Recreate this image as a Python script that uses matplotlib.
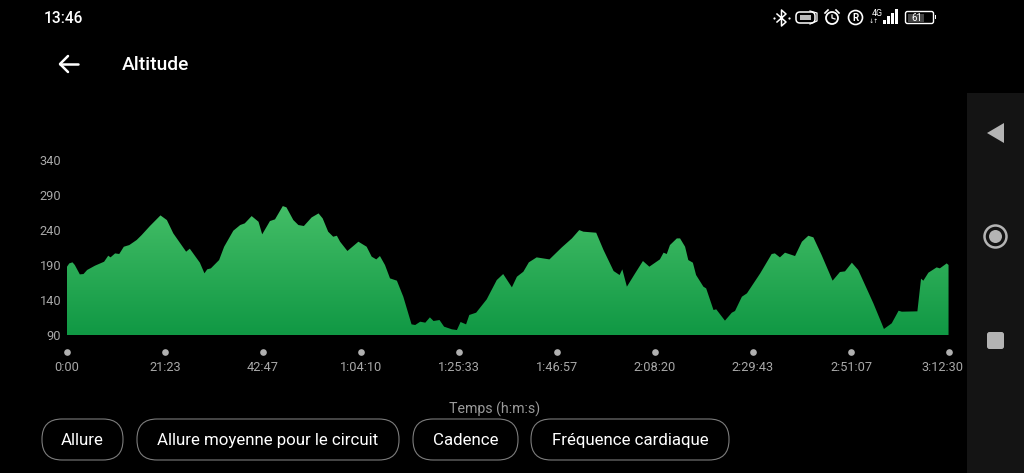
import numpy as np
import matplotlib
matplotlib.use('Agg')
import matplotlib.pyplot as plt
from matplotlib.patches import FancyBboxPatch, Polygon, Circle, Rectangle
from matplotlib.transforms import ScaledTranslation

plt.rcParams['font.family'] = ['Roboto', 'DejaVu Sans']

# time in minutes, altitude in metres
minutes = [0, .5, 1.2, 1.7, 2.8, 3.6, 4.4, 6.1, 8.1, 9.0, 9.5, 10.5, 11.4, 12.4, 13.6, 15.2, 16.3, 18.1, 20.4, 21.8,
           23.2, 26.0, 26.8, 29.0, 30.0, 30.6, 31.4, 33.2, 34.3, 36.3, 37.8, 38.8, 40.3, 41.8, 42.6, 44.3, 45.4, 47.1,
           47.9, 49.4, 50.5, 51.7, 53.4, 54.9, 55.8, 57.0, 58.1, 58.9, 59.6, 61.2, 63.6, 65.4, 66.5, 67.5, 68.3, 69.4,
           70.5, 72.0, 73.4, 75.2, 76.0, 77.1, 78.2, 79.2, 80.0, 81.3, 82.3, 84.0, 85.1, 85.9, 87.1, 87.8, 89.3, 91.6,
           93.8, 95.2, 97.1, 98.2, 99.6, 100.8, 102.5, 105.3, 108.0, 110.2, 111.8, 112.7, 115.5, 117.1, 119.3, 120.6,
           121.2, 122.2, 124.0, 125.7, 127.1, 129.4, 130.2, 130.9, 131.6, 133.1, 133.8, 134.9, 135.6, 136.6, 137.3,
           138.9, 139.5, 141.1, 141.7, 143.6, 145.1, 145.8, 147.3, 148.4, 151.3, 153.8, 154.5, 155.6, 156.7, 158.9,
           160.4, 161.8, 162.9, 164.7, 167.1, 168.7, 169.8, 171.3, 172.7, 176.0, 177.8, 178.3, 180.0, 181.5, 182.2,
           185.6, 186.4, 186.9, 188.0, 189.8, 190.5, 192.0, 192.4]
altitude = [187.6, 192.3, 193.8, 190, 176.6, 177.1, 182.9, 189, 194.7, 203.3, 200.9, 206.6, 205.7, 216.1, 218.5, 225.7,
            232.8, 245.7, 260.9, 254.2, 235.2, 209, 213.3, 193.3, 178.1, 183.8, 185.2, 197.1, 216.1, 239, 247.1, 249.5,
            259.9, 251.8, 233.8, 252.8, 255.2, 274.2, 272.3, 254.2, 247.1, 245.7, 258, 263.7, 256.6, 237.6, 230.4,
            231.8, 223.3, 210, 223.3, 216.1, 201.9, 198, 202.8, 190, 170.9, 167.6, 144.7, 105.2, 104.3, 109, 107.6,
            115.2, 110, 111.4, 101.9, 98.1, 97.1, 108.6, 105.2, 118.6, 121.9, 140.9, 168.5, 177.1, 158.1, 173.3, 180.4,
            193.8, 200.9, 198, 215.2, 228, 239.9, 237.6, 236.1, 211.4, 181.4, 175.7, 183.8, 159, 178.1, 195.7, 187.6,
            198, 207.6, 205.7, 218.5, 228, 228, 216.1, 197.1, 193.3, 175.7, 159, 156.6, 125.7, 126.7, 110.5, 121.9,
            124.3, 144.7, 149.5, 178.1, 205.7, 206.6, 200.9, 207.6, 202.8, 223.3, 231.8, 229.5, 204.2, 167.6, 180,
            180.9, 193.3, 182.8, 135.2, 106.7, 98.6, 106.7, 124.7, 123.3, 123.8, 170.4, 167.6, 179, 186.6, 185.2,
            192.3, 190]

y_ticks = [90, 140, 190, 240, 290, 340]
x_tick_minutes = [0, 21.38, 42.78, 64.17, 85.55, 106.95, 128.33, 149.72, 171.12, 192.5]
x_tick_labels = ['0:00', '21:23', '42:47', '1:04:10', '1:25:33', '1:46:57', '2:08:20', '2:29:43', '2:51:07', '3:12:30']
buttons = ['Allure', 'Allure moyenne pour le circuit', 'Cadence', 'Fréquence cardiaque']

W, H = 1024, 473
fig = plt.figure(figsize=(W / 100, H / 100), dpi=100, facecolor='black')

# chart area, 67..949 px across and 160..335 px down
ax = fig.add_axes([67 / W, 1 - 335 / H, 882 / W, 175 / H], facecolor='black')

# gradient fill clipped to the altitude outline
top_col = np.array([0x44, 0xbe, 0x67]) / 255
bot_col = np.array([0x10, 0x98, 0x44]) / 255
frac = np.linspace(0, 1, 256)[:, None]
grad = (top_col * (1 - frac) + bot_col * frac)[:, None, :]
img = ax.imshow(grad, extent=[0, 192.5, 90, 275], aspect='auto', zorder=2)
outline = Polygon(np.column_stack([[minutes[0]] + minutes + [minutes[-1]], [90] + altitude + [90]]),
                  closed=True, transform=ax.transData, facecolor='none', edgecolor='none')
ax.add_patch(outline)
img.set_clip_path(outline)
ax.set_xlim(0, 192.5)
ax.set_ylim(90, 340)

for s in ax.spines.values():
    s.set_visible(False)
ax.set_yticks(y_ticks)
ax.set_xticks(x_tick_minutes)
ax.set_xticklabels(x_tick_labels)
ax.tick_params(axis='y', length=0, pad=4.2, labelsize=9.2, labelcolor='#a8a8a8')
ax.tick_params(axis='x', length=0, pad=19, labelsize=9.2, labelcolor='#a8a8a8')
for lab in ax.get_yticklabels():
    lab.set_va('center_baseline')
# last label is pushed left so it stays clear of the navigation bar
last = ax.get_xticklabels()[-1]
last.set_transform(last.get_transform() + ScaledTranslation(-7 / 100, 0, fig.dpi_scale_trans))
dot_y = [-17 / 175] * len(x_tick_minutes)
ax.plot(x_tick_minutes, dot_y, 'o', ms=4.8, color='#b0b0b0', mec='none', clip_on=False,
        transform=ax.get_xaxis_transform())

# overlay in pixel coordinates for the phone screen around the chart
ui = fig.add_axes([0, 0, 1, 1], facecolor='none')
ui.set_xlim(0, W)
ui.set_ylim(H, 0)
ui.axis('off')

ui.text(44, 18.5, '13:46', color='white', fontsize=11.2, va='center', ha='left', fontweight='medium')
ui.text(122, 65, 'Altitude', color='white', fontsize=13.9, va='center', ha='left', fontweight='medium')
ui.plot([60, 78], [64, 64], color='white', lw=1.8, solid_capstyle='round')
ui.plot([68, 60, 68], [56, 64, 72], color='white', lw=1.8, solid_capstyle='round', solid_joinstyle='round')

ui.text(494.5, 409.5, 'Temps (h:m:s)', color='#9a9a9a', fontsize=10.2, va='center', ha='center')

# pill buttons
spans = [(42, 123), (137, 399), (413, 518), (531, 729)]
for (x0, x1), label in zip(spans, buttons):
    ui.add_patch(FancyBboxPatch((x0 + 20, 419 + 20), x1 - x0 - 40, 1, boxstyle='round,pad=20,rounding_size=20',
                                fc='none', ec='#7c7c7c', lw=0.8, mutation_aspect=1))
    ui.text((x0 + x1) / 2, 440.5, label, color='white', fontsize=12.2, va='center', ha='center')

# navigation bar
ui.add_patch(Rectangle((967, 93), 57, 380, fc='#141414', ec='none'))
ui.add_patch(Polygon([[987, 133], [1004, 123], [1004, 143]], closed=True, fc='#b4b4b4', ec='none'))
ui.add_patch(Circle((995.5, 236.5), 11, fc='none', ec='#b4b4b4', lw=1.8))
ui.add_patch(Circle((995.5, 236.5), 6.5, fc='#b4b4b4', ec='none'))
ui.add_patch(FancyBboxPatch((989, 334), 13, 13, boxstyle='round,pad=2,rounding_size=2.5', fc='#b4b4b4', ec='none'))

# status bar icons
ui.plot([777, 786, 781.5, 781.5, 786, 777], [14, 22, 26, 10, 14, 22], color='white', lw=1.1)
ui.plot([774, 789], [18, 18], 'o', ms=1.6, color='white', mec='none')
ui.add_patch(FancyBboxPatch((797, 13), 17, 9, boxstyle='round,pad=1,rounding_size=4', fc='none', ec='white', lw=1.1))
ui.add_patch(Rectangle((800, 15), 11, 5, fc='#bbbbbb', ec='none'))
ui.plot([810, 817, 817, 810], [11, 13, 21, 24], color='white', lw=0.9)
ui.add_patch(Circle((832, 18), 6, fc='none', ec='white', lw=1.3))
ui.plot([832, 832, 835], [15, 18, 19], color='white', lw=0.9)
ui.plot([825, 828], [13, 10], color='white', lw=1.2)
ui.plot([836, 839], [10, 13], color='white', lw=1.2)
ui.add_patch(Circle((855.5, 17.5), 7, fc='none', ec='white', lw=1.2))
ui.text(855.5, 17.8, 'R', color='white', fontsize=7, ha='center', va='center', fontweight='bold')
ui.text(877.5, 13.5, '4G', color='white', fontsize=6.4, ha='center', va='center')
ui.text(874, 21.5, '↓↑', color='white', fontsize=4.4, ha='center', va='center')
for i, x in enumerate([884, 888, 892, 896]):
    ui.add_patch(Rectangle((x - 1, 24 - (4 + i * 3.6)), 2.6, 4 + i * 3.6, fc='white', ec='none'))
ui.add_patch(FancyBboxPatch((906, 12), 27, 11, boxstyle='round,pad=0.5,rounding_size=2', fc='none', ec='white', lw=1))
ui.add_patch(Rectangle((908, 14), 16, 8, fc='#444444', ec='none'))
ui.add_patch(Rectangle((934.5, 15.5), 1.5, 4, fc='white', ec='none'))
ui.text(917, 18, '61', color='white', fontsize=7, ha='center', va='center')

fig.savefig('out.png', dpi=100, facecolor='black')
